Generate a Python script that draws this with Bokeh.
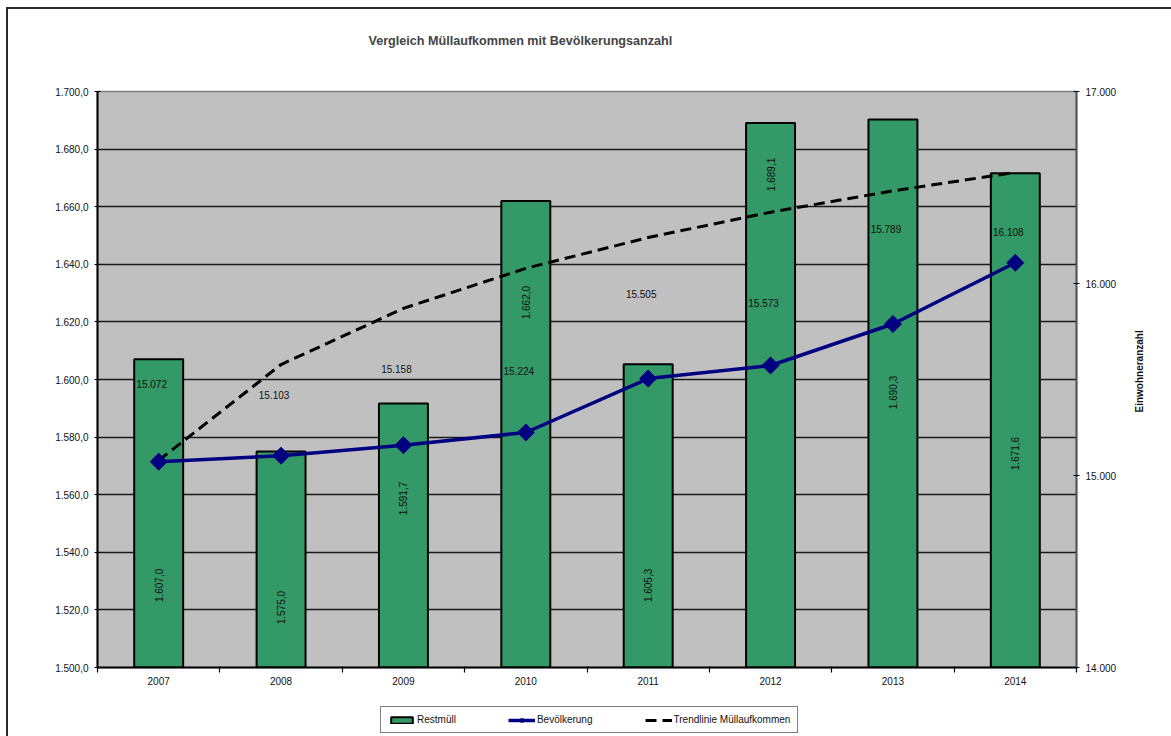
import numpy as np
from bokeh.plotting import figure
from bokeh.layouts import column
from bokeh.models import Range1d, LinearAxis, FixedTicker, Legend, LegendItem
from bokeh.embed import file_html
from bokeh.resources import INLINE
from bokeh.core.properties import value

# ---------------- data ----------------
years = [2007, 2008, 2009, 2010, 2011, 2012, 2013, 2014]
restmuell = [1607.0, 1575.0, 1591.7, 1662.0, 1605.3, 1689.1, 1690.3, 1671.6]
bevoelkerung = [15072, 15103, 15158, 15224, 15505, 15573, 15789, 16108]
trend_muell = [1571.9, 1605.2, 1624.7, 1638.6, 1649.3, 1658.1, 1665.5, 1671.9]
# where the data labels sit (in axis units)
restmuell_label_at = [1528.5, 1520.8, 1558.7, 1626.7, 1528.5, 1671.2, 1595.5, 1574.3]
bevoelkerung_label_at = [15474, 15417, 15557, 15542, 15943, 15901, 16286, 16266]
left_ticks = [1500, 1520, 1540, 1560, 1580, 1600, 1620, 1640, 1660, 1680, 1700]
right_ticks = [14000, 15000, 16000, 17000]

title_text = "Vergleich Müllaufkommen mit Bevölkerungsanzahl"
right_label = "Einwohneranzahl"
legend_labels = ["Restmüll", "Bevölkerung", "Trendlinie Müllaufkommen"]


def de(v, d):
    s = f"{v:,.{d}f}"
    return s.replace(",", "X").replace(".", ",").replace("X", ".")


FONT = "Liberation Sans"
GREEN = "#339966"
NAVY = "#000080"

p = figure(frame_width=979, frame_height=576,
           x_range=Range1d(years[0] - 0.5, years[-1] + 0.5),
           y_range=Range1d(left_ticks[0], left_ticks[-1]),
           output_backend="svg", toolbar_location=None,
           min_border_left=89, min_border_right=95,
           min_border_top=82, min_border_bottom=26)
p.extra_y_ranges = {"pop": Range1d(right_ticks[0], right_ticks[-1])}

p.background_fill_color = "#C0C0C0"
p.border_fill_color = "white"
p.outline_line_color = "#7f7f7f"
p.outline_line_width = 1.5

# title (two blank lines below it lift it away from the plot area)
p.title.text = title_text + "\n\u00a0\n\u00a0"
p.title.align = "left"
p.title.offset = 271
p.title.text_font = FONT
p.title.text_font_size = "12.6px"
p.title.text_font_style = "bold"
p.title.text_line_height = 1.21
p.title.standoff = 20

# left axis
ya = p.yaxis[0]
ya.ticker = FixedTicker(ticks=left_ticks)
ya.major_label_overrides = {t: de(t, 1) for t in left_ticks}
ya.major_label_text_font = FONT
ya.major_label_text_font_size = "10px"
ya.major_label_text_color = "#111111"
ya.axis_line_color = "black"
ya.axis_line_width = 2
ya.major_tick_in = 3
ya.major_tick_out = 3
ya.major_tick_line_color = "black"
ya.minor_tick_line_color = None
ya.major_label_standoff = 6

# right axis
ra = LinearAxis(y_range_name="pop", ticker=FixedTicker(ticks=right_ticks))
ra.major_label_overrides = {t: de(t, 0) for t in right_ticks}
ra.major_label_text_font = FONT
ra.major_label_text_font_size = "10px"
ra.major_label_text_color = "#111111"
ra.axis_line_color = "#555555"
ra.axis_line_width = 2
ra.major_tick_in = 3
ra.major_tick_out = 3
ra.major_tick_line_color = "black"
ra.minor_tick_line_color = None
ra.major_label_standoff = 6
p.add_layout(ra, "right")

# right axis title: a single rotated label starting at this axis value, reading upwards
label_start = 15328
ra2 = LinearAxis(y_range_name="pop", ticker=FixedTicker(ticks=[label_start]))
ra2.major_label_overrides = {label_start: right_label}
ra2.major_label_orientation = np.pi / 2
ra2.major_label_text_font = FONT
ra2.major_label_text_font_size = "10px"
ra2.major_label_text_font_style = "bold"
ra2.major_label_text_color = "#111111"
ra2.axis_line_color = None
ra2.major_tick_line_color = None
ra2.minor_tick_line_color = None
ra2.major_tick_in = 0
ra2.major_tick_out = 0
ra2.major_label_standoff = 20
p.add_layout(ra2, "right")

# x axis
xa = p.xaxis[0]
xa.ticker = FixedTicker(ticks=years,
                        minor_ticks=[years[0] - 0.5] + [y + 0.5 for y in years])
xa.major_label_overrides = {y: str(y) for y in years}
xa.major_label_text_font = FONT
xa.major_label_text_font_size = "10px"
xa.major_label_text_color = "#111111"
xa.major_tick_line_color = None
xa.major_tick_out = 0
xa.major_tick_in = 0
xa.minor_tick_line_color = "black"
xa.minor_tick_out = 5
xa.minor_tick_in = 1
xa.minor_tick_line_width = 1.2
xa.axis_line_color = "black"
xa.axis_line_width = 2
xa.major_label_standoff = 4

p.xgrid.visible = False
p.ygrid.ticker = FixedTicker(ticks=left_ticks)
p.ygrid.grid_line_color = "#1a1a1a"
p.ygrid.grid_line_width = 1.3

# glyphs
p.vbar(x=years, top=restmuell, bottom=left_ticks[0], width=0.4,
       fill_color=GREEN, line_color="black", line_width=2)
p.line(years, trend_muell, line_color="black", line_width=3, line_dash="11 6")
p.line(years, bevoelkerung, y_range_name="pop", line_color=NAVY, line_width=3.5)
p.scatter(years, bevoelkerung, y_range_name="pop", marker="square",
          angle=np.pi / 4, size=12, fill_color=NAVY, line_color=NAVY)

p.text(x=years, y=restmuell_label_at, text=[de(v, 1) for v in restmuell],
       angle=np.pi / 2, text_align="center", text_baseline="middle",
       text_font=value(FONT), text_font_size="10px", text_color="#111111")
p.text(x=years, y=bevoelkerung_label_at, text=[de(v, 0) for v in bevoelkerung],
       y_range_name="pop", x_offset=-7, text_align="center", text_baseline="middle",
       text_font=value(FONT), text_font_size="10px", text_color="#111111")

# ---------------- legend strip below the chart ----------------
# the series are repeated here only so that the legend can draw their keys;
# they are hidden and their view lies past the last year
lg = figure(frame_width=979, frame_height=43,
            x_range=Range1d(years[-1] + 2, years[-1] + 3),
            y_range=Range1d(left_ticks[0], left_ticks[-1]),
            x_axis_type=None, y_axis_type=None,
            output_backend="svg", toolbar_location=None,
            min_border_left=89, min_border_right=95,
            min_border_top=0, min_border_bottom=0)
lg.extra_y_ranges = {"pop": Range1d(right_ticks[0], right_ticks[-1])}
lg.title_location = None
lg.outline_line_color = None
lg.background_fill_color = "white"
lg.border_fill_color = "white"
lb = lg.vbar(x=years, top=restmuell, bottom=left_ticks[0], width=0.4,
             fill_color=GREEN, line_color="black", line_width=2, visible=False)
ll = lg.line(years, bevoelkerung, y_range_name="pop", line_color=NAVY,
             line_width=3.5, visible=False)
lm = lg.scatter(years, bevoelkerung, y_range_name="pop", marker="square",
                angle=np.pi / 4, size=7, fill_color=NAVY, line_color=NAVY,
                visible=False)
lt = lg.line(years, trend_muell, line_color="black", line_width=3,
             line_dash="11 6", visible=False)

legend = Legend(items=[
    LegendItem(label=legend_labels[0], renderers=[lb]),
    LegendItem(label=legend_labels[1], renderers=[ll, lm]),
    LegendItem(label=legend_labels[2], renderers=[lt]),
], orientation="horizontal", location=(283, 3))
legend.margin = 0
legend.padding = 7
legend.spacing = 52
legend.glyph_width = 27
legend.glyph_height = 8
legend.label_height = 10
legend.label_standoff = 2
legend.label_text_font = FONT
legend.label_text_font_size = "10px"
legend.label_text_color = "#111111"
legend.border_line_color = "black"
legend.border_line_width = 1.5
legend.background_fill_color = "white"
legend.background_fill_alpha = 1
lg.add_layout(legend)

page = column(p, lg, spacing=0)
page.styles = {"margin-left": "6px", "margin-top": "7px",
               "border-left": "2px solid #2a2a2a", "border-top": "2px solid #2a2a2a"}

open("out.html", "w").write(file_html(page, INLINE))
